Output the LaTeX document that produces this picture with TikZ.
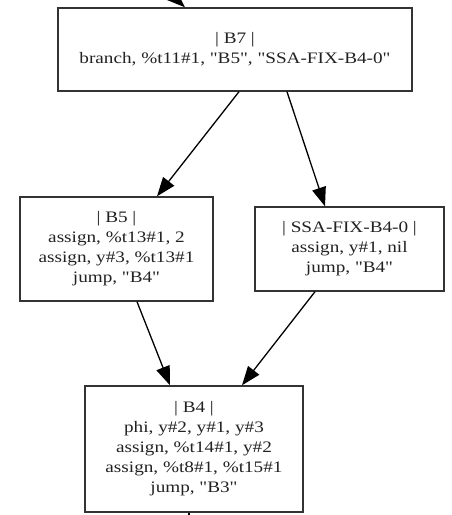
\documentclass[tikz,border=0pt]{standalone}
\usepackage{fontspec}
\setmainfont{Liberation Serif}[FakeStretch=1.2, Ligatures=TeXOff]
\usetikzlibrary{arrows.meta}
\definecolor{boxline}{HTML}{333333}
\definecolor{txt}{HTML}{222222}
\tikzset{
  block/.style={draw=boxline, line width=1.4pt, fill=white, align=center,
    inner sep=0pt, text=txt, font=\fontsize{16}{20}\selectfont},
  flow/.style={draw=black, line width=1.3pt,
    -{Triangle[length=19pt,width=14pt]}},
  stub/.style={draw=black, line width=1.3pt}
}
\begin{document}
\begin{tikzpicture}[x=1pt,y=-1pt]
\useasboundingbox (0,0) rectangle (451,515);
\clip (0,0) rectangle (451,515);
\node[block, minimum width=354pt, minimum height=83pt] (b7) at (235,49.5)
  {| B7 |\\branch, \%t11\#1, "B5", "SSA-FIX-B4-0"};
\node[block, minimum width=193pt, minimum height=104pt] (b5) at (116.5,249)
  {| B5 |\\assign, \%t13\#1, 2\\assign, y\#3, \%t13\#1\\jump, "B4"};
\node[block, minimum width=189pt, minimum height=84pt] (ssa) at (349.5,249)
  {| SSA-FIX-B4-0 |\\assign, y\#1, nil\\jump, "B4"};
\node[block, minimum width=218pt, minimum height=126pt] (b4) at (194,449)
  {| B4 |\\phi, y\#2, y\#1, y\#3\\assign, \%t14\#1, y\#2\\assign, \%t8\#1, \%t15\#1\\jump, "B3"};
\coordinate (in) at (150,-25);
\coordinate (out) at (189,540);
\draw[flow] (in) -- ([xshift=-50pt]b7.north);
\draw[flow] ([xshift=4pt]b7.south) -- ([xshift=40.5pt]b5.north);
\draw[flow] ([xshift=52pt]b7.south) -- ([xshift=-24.5pt]ssa.north);
\draw[flow] ([xshift=20.5pt]b5.south) -- ([xshift=-24pt]b4.north);
\draw[flow] ([xshift=-34.5pt]ssa.south) -- ([xshift=48pt]b4.north);
\draw[stub] ([xshift=-5pt]b4.south) -- (out);
\end{tikzpicture}
\end{document}
